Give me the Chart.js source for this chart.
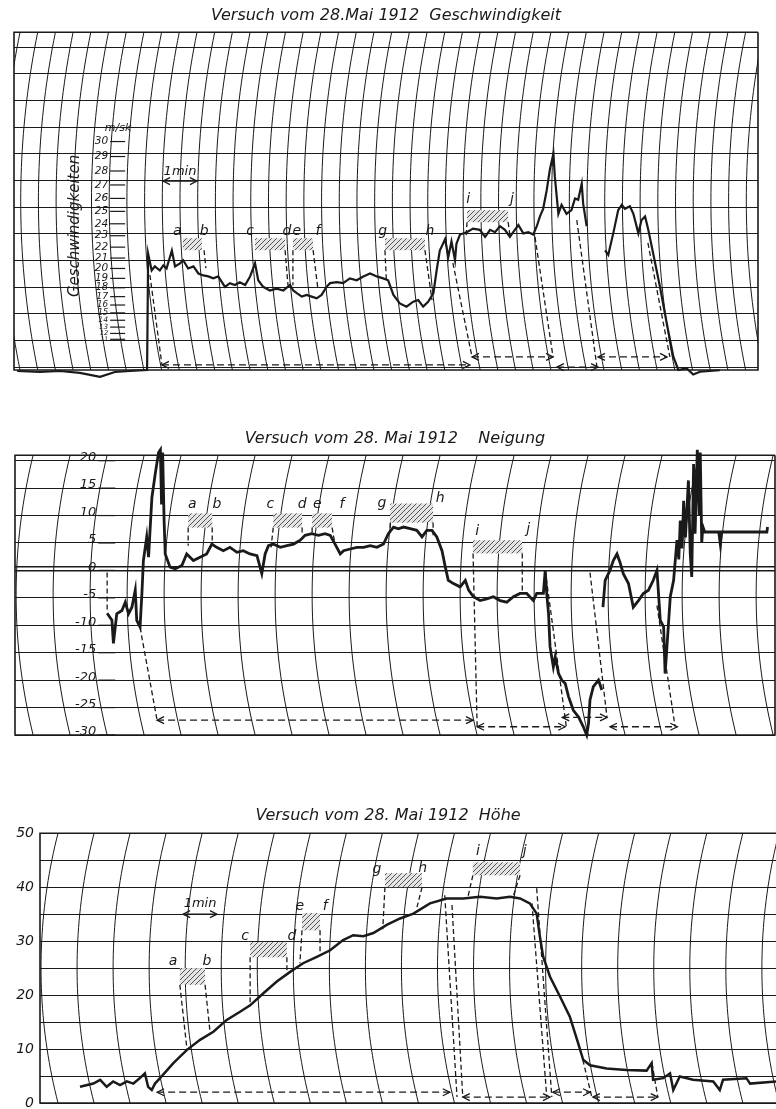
<!DOCTYPE html>
<html><head><meta charset="utf-8">
<script src="https://cdn.jsdelivr.net/npm/chart.js@4.4.1/dist/chart.umd.min.js"></script>
<style>
html,body{margin:0;padding:0;background:#fff;}
body{width:776px;height:1109px;position:relative;overflow:hidden;}
.p{position:absolute;left:0;width:776px;}
</style></head><body>
<div class="p" style="top:0;height:380px"><canvas id="c1"></canvas></div>
<div class="p" style="top:380px;height:360px"><canvas id="c2"></canvas></div>
<div class="p" style="top:740px;height:369px"><canvas id="c3"></canvas></div>
<script>
// ---------- Titles ----------
const titleSpeed = 'Versuch vom 28.Mai 1912  Geschwindigkeit';
const titlePitch = 'Versuch vom 28. Mai 1912    Neigung';
const titleHeight = 'Versuch vom 28. Mai 1912  Höhe';

// ---------- Geschwindigkeit (m/sk) over time (min) ----------
const speedT = [-0.08,0.56,1.13,1.69,2.26,2.68,3.11,3.59,3.62,3.72,
3.81,3.95,4.05,4.14,4.29,4.38,4.52,4.61,4.75,4.90,
5.04,5.18,5.32,5.46,5.60,5.79,5.93,6.07,6.21,6.36,
6.50,6.64,6.73,6.87,7.06,7.25,7.44,7.63,7.72,7.82,
7.96,8.10,8.24,8.38,8.52,8.66,8.76,8.95,9.13,9.32,
9.51,9.70,9.89,10.08,10.26,10.40,10.55,10.73,10.92,11.11,
11.25,11.39,11.53,11.68,11.77,11.86,12.01,12.10,12.19,12.29,
12.33,12.43,12.62,12.80,12.99,13.14,13.28,13.42,13.56,13.70,
13.84,13.98,14.08,14.22,14.36,14.50,14.60,14.69,14.78,14.88,
14.97,15.07,15.11,15.21,15.30,15.44,15.58,15.68,15.77,15.87,
15.91,16.01,16.20,16.53,16.62,16.76,16.90,17.00,17.09,17.23,
17.33,17.47,17.56,17.66,17.75,17.89,18.08,18.27,18.46,18.60,
18.83,19.02,19.21,19.49,19.77];
const speedV = [-2.0,-2.8,-2.0,-3.4,-5.2,-2.8,-2.0,0,21.4,19.8,
20.2,19.8,20.3,20.0,21.7,20.2,20.5,20.8,20.0,20.2,
19.5,19.3,19.2,19.0,19.2,18.1,18.5,18.3,18.6,18.3,
19.2,20.5,18.8,18.1,17.7,17.9,17.7,18.3,17.7,17.4,
17.0,17.2,17.0,16.8,17.2,18.1,18.5,18.6,18.5,19.0,
18.8,19.2,19.5,19.2,19.0,18.8,17.2,16.2,15.8,16.4,
16.6,15.8,16.4,17.4,19.8,21.7,22.7,21.1,22.5,20.8,
22.3,23.1,23.3,23.6,23.5,22.9,23.5,23.3,23.8,23.5,
22.9,23.5,23.9,23.2,23.3,23.1,23.8,24.6,25.2,26.6,
28.1,29.2,27.6,24.8,25.5,24.8,25.1,26.0,25.9,27.1,
25.6,23.8,null,21.7,21.3,23.2,25.1,25.5,25.2,25.4,
24.8,23.2,24.3,24.6,23.5,21.4,18.1,13.6,7.2,0,
2.6,-4.2,-2.6,-2.0,-1.0];
const speedTicks = [30,29,28,27,26,25,24,23,22,21,20,19,18,17,16,15,14,13,12,11];
const speedPaperRows = [0.1,1.1,2.1,3.1,4.1,5.1,6.1,7.1,8.1,9.1,10.1,11.1,12.1];

// ---------- Neigung (Grad) over time (min) ----------
const pitchT = [2.00,2.13,2.17,2.26,2.40,2.49,2.58,2.67,2.76,2.80,
2.89,2.94,2.98,3.07,3.12,3.16,3.21,3.30,3.39,3.44,
3.47,3.50,3.54,3.57,3.70,3.84,4.02,4.15,4.33,4.51,
4.69,4.83,4.96,5.14,5.32,5.51,5.68,5.86,6.05,6.18,
6.27,6.36,6.49,6.68,6.86,7.04,7.22,7.35,7.53,7.71,
7.89,8.03,8.16,8.30,8.39,8.57,8.75,8.93,9.11,9.29,
9.47,9.60,9.74,9.87,10.01,10.19,10.37,10.51,10.64,10.78,
10.91,11.05,11.14,11.22,11.36,11.54,11.68,11.77,11.90,12.08,
12.26,12.44,12.62,12.80,12.98,13.16,13.34,13.52,13.61,13.79,
13.84,13.88,13.93,13.97,14.06,14.11,14.20,14.29,14.38,14.47,
14.60,14.74,14.87,14.96,15.01,15.05,15.14,15.28,15.37,15.38,
15.40,15.46,15.59,15.68,15.78,15.86,15.95,16.09,16.22,16.36,
16.49,16.63,16.76,16.86,16.95,17.04,17.08,17.13,17.22,17.31,
17.40,17.45,17.49,17.54,17.58,17.63,17.71,17.76,17.80,17.85,
17.89,17.95,18.00,18.03,18.07,18.10,18.15,18.53,18.57,18.60,
19.83,19.85];
const pitchV = [-7.8,-9.1,-13.3,-7.9,-7.3,-5.8,-7.9,-6.7,-3.6,-9.1,
-10.3,-4.2,1.8,6.1,2.4,7.3,13.3,17.6,21.5,22.0,
12.0,21.5,9.0,3.0,0.6,0.3,0.9,3.0,1.8,2.4,
3.0,4.8,4.2,3.6,4.2,3.3,3.6,3.0,2.7,-0.6,
3.0,4.5,4.8,4.2,4.5,4.8,5.5,6.4,6.7,6.4,
6.7,6.4,4.8,3.0,3.6,3.9,4.2,4.2,4.5,4.2,
4.8,6.7,7.9,7.6,7.9,7.6,7.3,6.1,7.3,7.3,
6.1,3.6,0.6,-1.8,-2.4,-3.0,-1.8,-3.6,-4.8,-5.5,
-5.2,-4.8,-5.5,-5.8,-4.8,-4.2,-4.2,-5.5,-4.2,-4.2,
0,-4.2,-7.9,-13.9,-17.6,-15.8,-18.8,-20.0,-20.6,-23.0,
-25.5,-26.7,-28.5,-30.0,-27.9,-23.6,-21.2,-20.0,-21.8,null,
-6.7,-1.8,0,1.8,3.0,1.5,-0.6,-2.4,-6.7,-5.5,
-4.2,-3.6,-1.8,0,-9.1,-10.3,-18.8,-13.9,-4.8,-1.8,
5.5,2.0,9.1,4.0,12.7,6.0,16.4,3.0,-1.2,19.4,
6.7,22.0,10.0,21.5,5.0,8.0,7.0,7.0,4.9,7.0,
7.0,7.9];
const pitchTicks = [20,15,10,5,0,-5,-10,-15,-20,-25,-30];
const pitchTickLabels = ['20','15','10','5','0','-5','-10','-15','-20','-25','-30'];
const pitchPaperRows = [20,15,10,5,0.6,0,-5,-10,-15,-20,-25,-30];

// ---------- Höhe over time (min) ----------
const heightT = [0.61,0.98,1.17,1.35,1.53,1.72,1.91,2.09,2.27,2.41,
2.50,2.60,2.69,2.83,3.20,3.57,3.94,4.31,4.68,5.05,
5.33,5.69,6.07,6.44,6.80,7.18,7.55,7.91,8.19,8.47,
8.75,9.12,9.49,9.86,10.32,10.78,11.24,11.71,12.17,12.54,
12.82,13.09,13.28,13.37,13.46,13.65,13.93,14.20,14.43,14.57,
14.76,15.22,15.77,16.33,16.47,16.51,16.79,16.98,17.07,17.25,
17.62,18.18,18.36,18.45,19.10,19.20,19.92];
const heightV = [3.0,3.6,4.3,3.0,4.0,3.3,4.0,3.6,4.6,5.5,
3.0,2.4,3.6,4.6,7.4,9.8,11.7,13.2,15.4,16.9,
18.1,20.3,22.5,24.3,25.9,27.1,28.3,30.2,31.1,30.9,
31.5,33.0,34.2,35.1,37.0,37.9,37.9,38.2,37.9,38.2,
37.9,37.0,35.1,30.8,27.1,23.4,19.7,16.0,11.1,8.0,
7.0,6.4,6.1,6.0,7.4,4.3,4.6,5.5,2.4,4.9,
4.3,4.0,2.4,4.3,4.6,3.6,4.0];
const heightTicks = [0,10,20,30,40,50];

// ---------- Marked intervals (letters, hatched boxes, connector lines) ----------
const speedLetters = [[4.44,5.24,'a'],[5.20,5.24,'b'],[6.50,5.24,'c'],[7.54,5.24,'d'],[7.82,5.24,'e'],[8.42,5.24,'f'],[10.25,5.24,'g'],[11.58,5.24,'h'],[12.66,6.44,'i'],[13.90,6.44,'j']];
const speedBoxes = [[4.60,5.14,4.49,4.94],[6.64,7.49,4.49,4.94],[7.71,8.28,4.49,4.94],[10.31,11.44,4.49,4.94],[12.63,13.79,5.54,5.99]];
const speedDashes = [[5.20,4.49,5.25,3.82],[7.49,4.49,7.57,3.18],[7.71,4.49,7.71,3.18],[8.28,4.49,8.42,3.0],[11.44,4.49,11.64,2.62],[10.31,4.49,10.35,3.37],[12.63,5.54,12.60,4.98],[13.79,5.54,13.84,5.06],[3.67,3.56,4.01,0.19],[12.23,4.01,12.77,0.49],[14.55,4.98,15.06,0.49],[15.73,5.62,16.30,0.11],[17.74,4.76,18.36,0.49]];
const speedArrows = [[4.01,12.71,0.19],[12.77,15.06,0.49],[15.17,16.33,0.11],[16.33,18.28,0.49]];

const pitchLetters = [[4.30,12.2,'a'],[4.97,12.2,'b'],[6.41,12.2,'c'],[7.27,12.2,'d'],[7.68,12.2,'e'],[8.35,12.2,'f'],[9.43,12.5,'g'],[11.0,13.3,'h'],[12.0,7.3,'i'],[13.38,7.8,'j']];
const pitchBoxes = [[4.19,4.84,7.8,10.4],[6.49,7.27,7.8,10.4],[7.54,8.08,7.8,10.4],[9.65,10.81,8.7,12.2],[11.89,13.22,3.1,5.5]];
const pitchDashes = [[4.19,7.8,4.19,4.5],[4.84,7.8,4.84,4.9],[6.49,7.8,6.43,4.2],[7.27,7.8,7.27,6.4],[7.54,7.8,7.54,6.4],[8.08,7.8,8.14,5.5],[9.65,8.7,9.65,7.5],[10.81,8.7,10.81,6.4],[11.89,3.1,12.0,-28.5],[13.22,3.1,13.22,-4.2],[2.0,-0.4,2.0,-7.3],[2.89,-10.4,3.35,-27.3],[13.84,0,14.41,-28.5],[15.05,-0.4,15.51,-26.8],[16.86,-6.4,17.35,-28.5]];
const pitchArrows = [[3.35,11.89,-27.3],[12.0,14.38,-28.5],[14.30,15.51,-26.8],[15.59,17.41,-28.5]];

const heightLetters = [[3.19,26.5,'a'],[4.13,26.5,'b'],[5.19,31.1,'c'],[6.49,31.1,'d'],[6.71,36.7,'e'],[7.41,36.7,'f'],[8.85,43.5,'g'],[10.12,43.7,'h'],[11.65,46.9,'i'],[12.95,46.9,'j']];
const heightBoxes = [[3.38,4.08,21.9,25.0],[5.33,6.35,27.0,29.8],[6.77,7.27,32.0,35.2],[9.07,10.10,40.0,42.6],[11.51,12.82,42.2,44.6]];
const heightDashes = [[3.38,21.9,3.58,9.8],[4.08,21.9,4.22,13.0],[5.33,27.0,5.33,18.0],[6.35,27.0,6.35,24.6],[6.77,32.0,6.71,25.9],[7.27,32.0,7.27,27.8],[9.07,40.0,9.01,32.2],[10.10,40.0,9.96,36.3],[11.51,42.2,11.37,38.1],[12.82,42.2,12.62,38.1],[10.73,38.5,11.07,1.1],[10.93,36.7,11.23,1.1],[13.28,39.8,13.70,1.1],[13.15,37.0,13.56,1.1],[14.56,8.0,14.81,1.1],[16.48,7.4,16.64,1.1]];
const heightArrows = [[2.75,10.87,2.0],[11.23,13.65,1.1],[13.73,14.76,2.0],[14.84,16.64,1.1]];

// ---------- square-law speed scale (speed recorder scale) ----------
class SquareScale extends Chart.LinearScale {
  static id = 'square';
  static defaults = Chart.LinearScale.defaults;
  _sq(v){ return v < 0 ? -v*v : v*v; }
  getPixelForValue(value){
    if (value === null || value === undefined || isNaN(value)) return NaN;
    const a = this._sq(this.min), b = this._sq(this.max);
    return this.getPixelForDecimal((this._sq(value) - a) / (b - a));
  }
  getValueForPixel(pixel){
    const a = this._sq(this.min), b = this._sq(this.max);
    const s = a + this.getDecimalForPixel(pixel) * (b - a);
    return s < 0 ? -Math.sqrt(-s) : Math.sqrt(s);
  }
}
Chart.register(SquareScale);

const INK = '#1a1a1a';
const FONT = '"DejaVu Sans"';

const hatch = (() => {
  const c = document.createElement('canvas'); c.width = 5; c.height = 5;
  const g = c.getContext('2d');
  g.fillStyle = '#e4e4e4'; g.fillRect(0,0,5,5);
  g.strokeStyle = '#555'; g.lineWidth = 1;
  g.beginPath(); g.moveTo(0,5); g.lineTo(5,0); g.moveTo(-1,1); g.lineTo(1,-1); g.moveTo(4,6); g.lineTo(6,4); g.stroke();
  return g.createPattern(c, 'repeat');
})();

const pts = (T, V) => T.map((t, i) => ({x: t, y: V[i]}));

// paper arcs (curved time lines of the recording paper)
function arcsPlugin(o) {
  return { id: 'arcs', beforeDatasetsDraw(chart) {
    const {ctx, chartArea: a} = chart; const xs = chart.scales.x;
    const top = a.top, bot = a.bottom, mid = (top + bot) / 2, h = (bot - top) / 2, b = o.bulge;
    const R = (h*h + b*b) / (2*b), base = Math.sqrt(R*R - h*h);
    ctx.save(); ctx.beginPath(); ctx.rect(a.left, a.top, a.right - a.left, a.bottom - a.top); ctx.clip();
    ctx.strokeStyle = INK; ctx.lineWidth = 1;
    for (let k = 0; k <= o.count; k++) {
      const xt = xs.getPixelForValue(o.start + k * o.step);
      ctx.beginPath();
      for (let i = 0; i <= 40; i++) {
        const y = top + (bot - top) * i / 40, d = y - mid;
        const x = xt - (Math.sqrt(R*R - d*d) - base);
        if (i) ctx.lineTo(x, y); else ctx.moveTo(x, y);
      }
      ctx.stroke();
    }
    ctx.restore();
  }};
}
function framePlugin(o) {
  return { id: 'frame', beforeDatasetsDraw(chart) {
    const {ctx, chartArea: a} = chart;
    ctx.save(); ctx.strokeStyle = INK; ctx.lineWidth = 1.6; ctx.beginPath();
    ctx.moveTo(o.right ? a.right : a.right + 2, a.top); ctx.lineTo(a.left, a.top); ctx.lineTo(a.left, a.bottom); ctx.lineTo(o.right ? a.right : a.right + 2, a.bottom);
    if (o.right) { ctx.lineTo(a.right, a.top); }
    ctx.stroke(); ctx.restore();
  }};
}
function ladderPlugin(o) {
  return { id: 'ladder', afterDatasetsDraw(chart) {
    const {ctx} = chart; const xs = chart.scales.x, ys = chart.scales[o.yID];
    const xe = xs.getPixelForValue(o.xEnd);
    ctx.save(); ctx.strokeStyle = INK; ctx.fillStyle = INK; ctx.lineWidth = 1.2;
    ctx.textAlign = 'right'; ctx.textBaseline = 'middle';
    o.ticks.forEach((v, i) => {
      const y = ys.getPixelForValue(v);
      ctx.beginPath(); ctx.moveTo(xe - o.len, y); ctx.lineTo(xe, y); ctx.stroke();
      const sp = i > 0 ? Math.abs(y - ys.getPixelForValue(o.ticks[i-1])) : 99;
      const size = Math.max(5, Math.min(o.size, sp * 1.05));
      ctx.font = `italic ${size}px ${FONT}`;
      ctx.fillText(o.labels[i], xe - o.len - 2, y - o.lift);
    });
    ctx.restore();
  }};
}
function annotPlugin(o) {
  return { id: 'annot', afterDatasetsDraw(chart) {
    const {ctx} = chart; const xs = chart.scales.x, ys = chart.scales[o.yID];
    const X = v => xs.getPixelForValue(v), Y = v => ys.getPixelForValue(v);
    ctx.save();
    for (const [t1, t2, y1, y2] of o.boxes) {
      ctx.fillStyle = hatch; ctx.fillRect(X(t1), Y(y2), X(t2) - X(t1), Y(y1) - Y(y2));
    }
    ctx.strokeStyle = INK; ctx.lineWidth = 1.3; ctx.setLineDash([5, 3]);
    for (const [t1, y1, t2, y2] of o.dashes) {
      ctx.beginPath(); ctx.moveTo(X(t1), Y(y1)); ctx.lineTo(X(t2), Y(y2)); ctx.stroke();
    }
    const head = (x, y, dir) => { ctx.beginPath(); ctx.moveTo(x + dir*7, y - 3.5); ctx.lineTo(x, y); ctx.lineTo(x + dir*7, y + 3.5); ctx.stroke(); };
    for (const [t1, t2, y] of o.arrows) {
      ctx.setLineDash([7, 4]);
      ctx.beginPath(); ctx.moveTo(X(t1), Y(y)); ctx.lineTo(X(t2), Y(y)); ctx.stroke();
      ctx.setLineDash([]); head(X(t1), Y(y), 1); head(X(t2), Y(y), -1);
    }
    ctx.setLineDash([]);
    if (o.minute) {
      const [t1, t2, y, tx, ty] = o.minute;
      ctx.beginPath(); ctx.moveTo(X(t1), Y(y)); ctx.lineTo(X(t2), Y(y)); ctx.stroke();
      head(X(t1), Y(y), 1); head(X(t2), Y(y), -1);
      ctx.fillStyle = INK; ctx.font = `italic 13px ${FONT}`; ctx.textAlign = 'center'; ctx.textBaseline = 'middle';
      ctx.fillText('1min', X(tx), Y(ty));
    }
    ctx.fillStyle = INK; ctx.font = `italic 14px ${FONT}`; ctx.textAlign = 'center'; ctx.textBaseline = 'alphabetic';
    for (const [t, y, s] of o.letters) ctx.fillText(s, X(t), Y(y) + 5);
    for (const tx of (o.texts || [])) {
      ctx.save(); ctx.translate(X(tx.t), Y(tx.y)); ctx.rotate(tx.rot || 0);
      ctx.font = `italic ${tx.size}px ${FONT}`; ctx.textAlign = 'center'; ctx.textBaseline = 'middle';
      ctx.fillText(tx.text, 0, 0); ctx.restore();
    }
    ctx.restore();
  }};
}

const titleFont = {family: 'DejaVu Sans', style: 'italic', size: 16, weight: 'normal'};
const base = (pad) => ({
  responsive: true, maintainAspectRatio: false, animation: false, events: [],
  layout: {padding: pad},
  plugins: {legend: {display: false}, tooltip: {enabled: false}}
});

// ---------- Chart 1: Geschwindigkeit ----------
const o1 = base({left: 14, right: 18, top: 0, bottom: 10});
o1.plugins.title = {display: true, text: titleSpeed, color: INK, font: titleFont, padding: {top: 6, bottom: 7}};
o1.scales = {
  x: {type: 'linear', display: false, min: -0.17, max: 20.85},
  y: {type: 'square', display: false, min: 0, max: 36.48},
  yg: {type: 'linear', position: 'left', min: 0, max: 12.66,
       afterBuildTicks: ax => { ax.ticks = speedPaperRows.map(v => ({value: v})); },
       ticks: {display: false}, border: {display: false},
       grid: {color: INK, lineWidth: 1, drawTicks: false}}
};
new Chart(document.getElementById('c1'), {
  type: 'line',
  data: {datasets: [{data: pts(speedT, speedV), yAxisID: 'y', borderColor: INK, borderWidth: 2.2, pointRadius: 0, tension: 0, spanGaps: false, clip: false}]},
  options: o1,
  plugins: [framePlugin({right: true}), arcsPlugin({start: 0, step: 0.5, count: 43, bulge: 17}),
    ladderPlugin({yID: 'y', xEnd: 2.97, len: 15, size: 10.5, lift: 0, ticks: speedTicks, labels: speedTicks.map(String)}),
    annotPlugin({yID: 'yg', letters: speedLetters, boxes: speedBoxes, dashes: speedDashes, arrows: speedArrows,
      minute: [4.04, 5.00, 7.08, 4.52, 7.45],
      texts: [{t: 2.77, y: 9.06, text: 'm/sk', size: 11}, {t: 1.55, y: 5.4, text: 'Geschwindigkeiten', size: 15, rot: -Math.PI/2}]})]
});

// ---------- Chart 2: Neigung ----------
const o2 = base({left: 15, right: 1, top: 0, bottom: 5});
o2.plugins.title = {display: true, text: titlePitch, color: INK, font: titleFont, padding: {top: 49, bottom: 7}};
o2.scales = {
  x: {type: 'linear', display: false, min: -0.49, max: 20.05},
  y: {type: 'linear', position: 'left', min: -30, max: 21,
      afterBuildTicks: ax => { ax.ticks = pitchPaperRows.map(v => ({value: v})); },
      ticks: {display: false}, border: {display: false},
      grid: {color: INK, lineWidth: c => (c.tick && (c.tick.value === 0 || c.tick.value === 0.6) ? 1.5 : 1), drawTicks: false}}
};
new Chart(document.getElementById('c2'), {
  type: 'line',
  data: {datasets: [{data: pts(pitchT, pitchV), borderColor: INK, borderWidth: 2.8, pointRadius: 0, tension: 0, spanGaps: false, clip: false}]},
  options: o2,
  plugins: [framePlugin({right: true}), arcsPlugin({start: 0, step: 1, count: 21, bulge: 17}),
    ladderPlugin({yID: 'y', xEnd: 2.22, len: 17, size: 13, lift: 3, ticks: pitchTicks, labels: pitchTickLabels}),
    annotPlugin({yID: 'y', letters: pitchLetters, boxes: pitchBoxes, dashes: pitchDashes, arrows: pitchArrows})]
});

// ---------- Chart 3: Höhe ----------
const o3 = base({left: 0, right: 0, top: 0, bottom: 6});
o3.plugins.title = {display: true, text: titleHeight, color: INK, font: titleFont, padding: {top: 66, bottom: 8}};
o3.scales = {
  x: {type: 'linear', display: false, min: -0.5, max: 19.92},
  y: {type: 'linear', position: 'left', min: 0, max: 50,
      ticks: {stepSize: 5, color: INK, padding: 6, font: {family: 'DejaVu Sans', style: 'italic', size: 14},
              callback: v => (heightTicks.includes(v) ? String(v) : '')},
      border: {display: false},
      grid: {color: INK, lineWidth: 1, drawTicks: false},
      afterFit: s => { s.width = 40; s.paddingTop = 0; s.paddingBottom = 0; }}
};
new Chart(document.getElementById('c3'), {
  type: 'line',
  data: {datasets: [{data: pts(heightT, heightV), borderColor: INK, borderWidth: 2.5, pointRadius: 0, tension: 0, clip: false}]},
  options: o3,
  plugins: [framePlugin({right: false}), arcsPlugin({start: 0, step: 1, count: 21, bulge: 17}),
    annotPlugin({yID: 'y', letters: heightLetters, boxes: heightBoxes, dashes: heightDashes, arrows: heightArrows,
      minute: [3.47, 4.41, 35.0, 3.94, 37.0]})]
});
</script></body></html>
